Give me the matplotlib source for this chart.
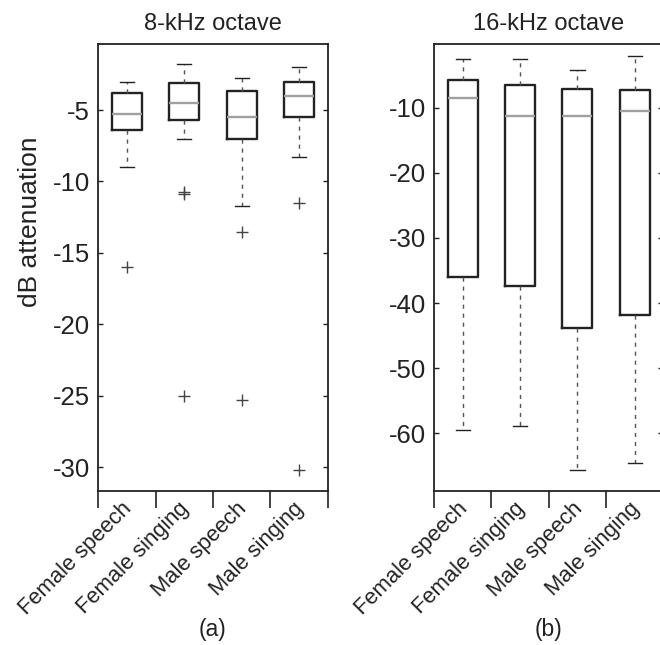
import matplotlib
matplotlib.use("Agg")
import matplotlib.pyplot as plt
from matplotlib.transforms import ScaledTranslation

plt.rcParams['font.family'] = ['Liberation Sans', 'DejaVu Sans']
plt.rcParams['axes.unicode_minus'] = False

categories = ["Female speech", "Female singing", "Male speech", "Male singing"]

# Panel (a): 8-kHz octave
a_whislo = [-8.99, -7.01, -11.72, -8.27]
a_q1 = [-6.42, -5.72, -7.01, -5.47]
a_med = [-5.26, -4.49, -5.51, -4.02]
a_q3 = [-3.81, -3.09, -3.65, -3.02]
a_whishi = [-3.04, -1.76, -2.76, -1.99]
a_fliers = [[-16.0], [-10.72, -10.9, -25.0], [-13.54, -25.28], [-11.49, -30.23]]
a_yticks = [-30, -25, -20, -15, -10, -5]
a_ylim = (-31.63, -0.38)

# Panel (b): 16-kHz octave
b_whislo = [-59.49, -58.95, -65.6, -64.6]
b_q1 = [-35.98, -37.43, -43.86, -41.85]
b_med = [-8.5, -11.24, -11.24, -10.46]
b_q3 = [-5.72, -6.54, -7.07, -7.23]
b_whishi = [-2.47, -2.43, -4.19, -2.12]
b_fliers = [[], [], [], []]
b_yticks = [-60, -50, -40, -30, -20, -10]
b_ylim = (-68.8, -0.2)

titles = ["8-kHz octave", "16-kHz octave"]
panel_labels = ["(a)", "(b)"]

fig = plt.figure(figsize=(6.6, 6.45), dpi=100)
W, H = 660, 645
def rect(l, t, r, b):
    return [l / W, (H - b) / H, (r - l) / W, (b - t) / H]

ax_a = fig.add_axes(rect(98.3, 44, 327.7, 490.5))
ax_b = fig.add_axes(rect(434, 44, 663.4, 490.5))

dark = '#222222'
panels = [
    (ax_a, a_whislo, a_q1, a_med, a_q3, a_whishi, a_fliers, a_yticks, a_ylim),
    (ax_b, b_whislo, b_q1, b_med, b_q3, b_whishi, b_fliers, b_yticks, b_ylim),
]

for i, (ax, wl, q1, med, q3, wh, fl, yt, yl) in enumerate(panels):
    stats = []
    for k in range(len(categories)):
        stats.append(dict(whislo=wl[k], q1=q1[k], med=med[k], q3=q3[k],
                          whishi=wh[k], fliers=fl[k], label=categories[k]))
    positions = list(range(1, len(categories) + 1))
    ax.bxp(stats, positions=positions, widths=0.52, capwidths=0.25,
           boxprops=dict(color=dark, linewidth=1.7),
           medianprops=dict(color='#a0a0a0', linewidth=1.7),
           whiskerprops=dict(color='#555555', linewidth=1.0, linestyle=(0, (3, 3.5))),
           capprops=dict(color=dark, linewidth=1.0),
           flierprops=dict(marker='+', markersize=8, markeredgecolor='#444444',
                           markeredgewidth=1.0, linestyle='none'),
           manage_ticks=False)
    ax.set_xlim(0.5, len(categories) + 0.5)
    ax.set_ylim(*yl)
    ax.set_yticks(yt)
    ax.set_yticklabels([str(v) for v in yt])
    ax.tick_params(axis='y', which='both', direction='in', length=3.5, width=1.0,
                   left=True, right=True, labelsize=18.5, colors=dark, pad=6)
    # boundary ticks (minor), labels at category centers (major)
    ax.set_xticks([p - 0.5 for p in positions] + [positions[-1] + 0.5], minor=True)
    ax.set_xticks(positions)
    ax.set_xticklabels(categories, rotation=45, ha='right', va='top')
    ax.tick_params(axis='x', which='major', length=0, pad=5.5, labelsize=15.8, colors=dark)
    ax.tick_params(axis='x', which='minor', direction='out', length=12, width=1.2, colors=dark)
    for lbl in ax.get_xticklabels():
        lbl.set_transform(lbl.get_transform() + ScaledTranslation(9 / 100, 0, fig.dpi_scale_trans))
    for sp in ax.spines.values():
        sp.set_color(dark)
        sp.set_linewidth(1.3)
    ax.set_title(titles[i], fontsize=17, color=dark, pad=10)
    ax.text(0.5, -0.312, panel_labels[i], transform=ax.transAxes, ha='center', va='center',
            fontsize=16.5, color=dark)

ax_a.set_ylabel("dB attenuation", fontsize=19, color=dark)
ax_a.yaxis.set_label_coords(-0.245, 0.601)

fig.savefig("out.png", dpi=100)
